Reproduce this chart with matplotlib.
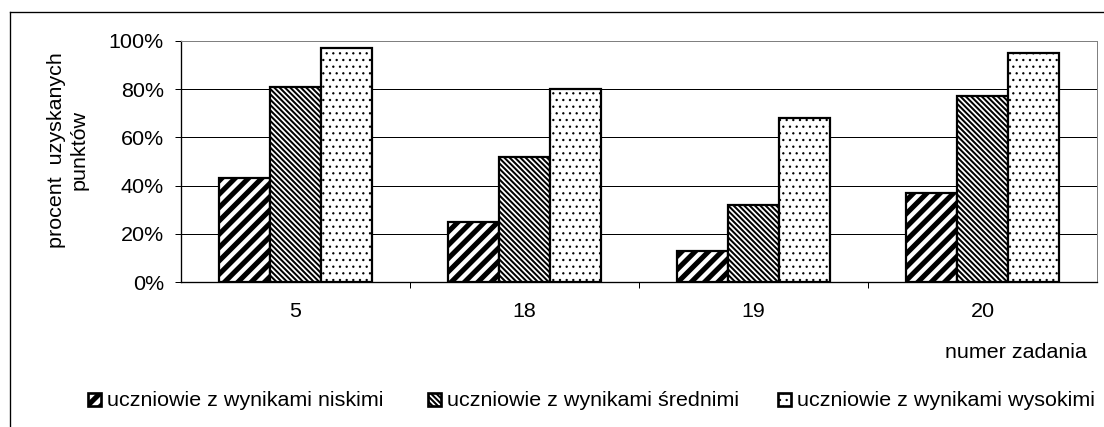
import matplotlib
matplotlib.use('Agg')
import matplotlib.pyplot as plt
from matplotlib.patches import Rectangle
from matplotlib.lines import Line2D
from matplotlib.ticker import FuncFormatter

# data
zadania = ['5', '18', '19', '20']
niskie = [0.43, 0.25, 0.13, 0.37]
srednie = [0.81, 0.52, 0.32, 0.77]
wysokie = [0.97, 0.80, 0.68, 0.95]
serie = ['uczniowie z wynikami niskimi',
         'uczniowie z wynikami średnimi',
         'uczniowie z wynikami wysokimi']

W, H, DPI = 1104, 427, 80
FS = 19.3

plt.rcParams['font.family'] = ['Liberation Sans', 'DejaVu Sans']
plt.rcParams['font.size'] = FS


def px(x, y):
    # pixel position (from top-left) -> figure fraction
    return x / W, 1 - y / H


# hatch style per series: (hatch, hatch linewidth in pt)
styles = [('//', 4.6), ('\\' * 5, 1.8), ('..', 0.9)]

fig = plt.figure(figsize=(W / DPI, H / DPI), dpi=DPI)

# outer frame (only top and left edges are visible)
fig.add_artist(Line2D([10 / W, 1], [1 - 12 / H] * 2, color='black', lw=1.2, transform=fig.transFigure))
fig.add_artist(Line2D([10 / W] * 2, [0, 1 - 12 / H], color='black', lw=1.2, transform=fig.transFigure))

left, bottom = px(181, 282)
right, top = px(1097, 41)
ax = fig.add_axes([left, bottom, right - left, top - bottom])

n = len(zadania)
width = 1 / (3 + 1.5)
for i, (vals, (hatch, hlw)) in enumerate(zip([niskie, srednie, wysokie], styles)):
    xs = [k + (i - 1) * width for k in range(n)]
    with plt.rc_context({'hatch.linewidth': hlw}):
        bars = ax.bar(xs, vals, width, facecolor='white', edgecolor='black',
                      linewidth=2.0, hatch=hatch, zorder=3)
    for b in bars:
        if hasattr(b, 'set_hatch_linewidth'):
            b.set_hatch_linewidth(hlw)

ax.set_xlim(-0.5, n - 0.5)
ax.set_ylim(0, 1)
ax.set_yticks([0, 0.2, 0.4, 0.6, 0.8, 1.0])
ax.yaxis.set_major_formatter(FuncFormatter(lambda v, _: f'{v * 100:.0f}%'))
ax.grid(axis='y', color='black', lw=0.9, zorder=0)
ax.tick_params(axis='y', direction='out', length=5.5, width=0.9, pad=10, labelsize=FS)

# category separators as major ticks, labels on minor ticks at centres
ax.set_xticks([k + 0.5 for k in range(n - 1)])
ax.set_xticklabels([])
ax.set_xticks(range(n), minor=True)
ax.set_xticklabels(zadania, minor=True)
ax.tick_params(axis='x', which='major', direction='out', length=5.5, width=0.9)
ax.tick_params(axis='x', which='minor', length=0, pad=18, labelsize=FS)

for s in ['left', 'bottom']:
    ax.spines[s].set_color('black')
    ax.spines[s].set_linewidth(1.2)
for s in ['top', 'right']:
    ax.spines[s].set_color('#808080')
    ax.spines[s].set_linewidth(0.9)

# axis titles
fig.text(*px(68, 150), 'procent  uzyskanych\npunktów', rotation=90,
         ha='center', va='center', multialignment='center', linespacing=1.25)
fig.text(*px(1087, 352), 'numer zadania', ha='right', va='center')

# legend drawn by hand
legend_x = [88, 428, 778]
for lx, label, (hatch, hlw) in zip(legend_x, serie, styles):
    x0, y0 = px(lx, 406)
    with plt.rc_context({'hatch.linewidth': hlw}):
        r = Rectangle((x0, y0), 13 / W, 13 / H, transform=fig.transFigure,
                      facecolor='white', edgecolor='black', lw=2.4, hatch=hatch)
    if hasattr(r, 'set_hatch_linewidth'):
        r.set_hatch_linewidth(hlw)
    fig.add_artist(r)
    fig.text(*px(lx + 19, 400), label, ha='left', va='center')

fig.savefig('out.png', dpi=DPI)
